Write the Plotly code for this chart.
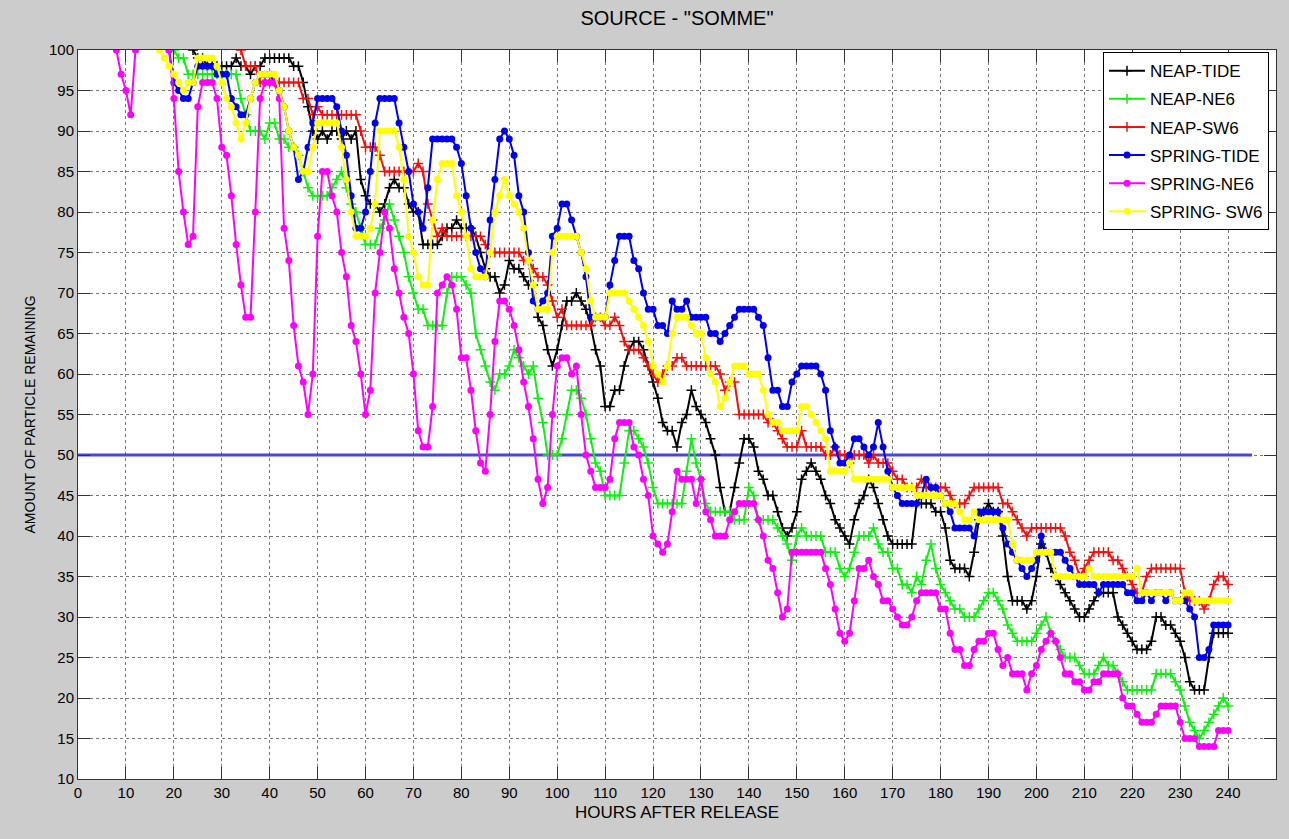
import plotly.graph_objects as go

hours = list(range(0, 241))
N = None  # hidden behind the top border of the axes (value 100)

neap_tide = [
    N, N, N, N, N, N, N, N, N, N,
    N, N, N, N, N, N, N, N, N, N,
    N, N, N, N, 100, 99, 99, 98, 98, 98,
    98, 98, 98, 99, 98, 98, 97, 98, 98, 99,
    99, 99, 99, 99, 99, 98, 98, 96, 93, 90,
    89, 90, 89, 90, 90, 89, 90, 89, 90, 84,
    82, 81, 81, 80, 81, 83, 84, 83, 83, 81,
    80, 80, 76, 76, 76, 76, 77, 78, 78, 79,
    78, 78, 78, 77, 75, 73, 72, 72, 70, 71,
    74, 73, 73, 72, 71, 71, 67, 66, 63, 61,
    63, 66, 69, 69, 70, 69, 68, 66, 63, 61,
    56, 56, 58, 58, 61, 63, 64, 64, 63, 61,
    59, 57, 54, 53, 53, 51, 54, 55, 58, 56,
    55, 54, 52, 50, 46, 43, 43, 46, 49, 52,
    52, 51, 48, 47, 45, 45, 43, 41, 40, 41,
    43, 47, 48, 49, 48, 47, 45, 44, 42, 41,
    40, 39, 42, 44, 45, 47, 46, 44, 42, 40,
    39, 39, 39, 39, 39, 44, 44, 44, 44, 43,
    43, 41, 37, 36, 36, 36, 35, 38, 42, 43,
    44, 43, 43, 40, 35, 32, 32, 32, 31, 32,
    35, 39, 38, 36, 35, 34, 33, 32, 31, 30,
    30, 31, 32, 33, 33, 33, 33, 30, 29, 28,
    27, 26, 26, 26, 27, 30, 30, 29, 29, 28,
    27, 25, 22, 21, 21, 21, 25, 28, 28, 28,
    28,
]

neap_ne6 = [
    N, N, N, N, N, N, N, N, N, N,
    N, N, N, N, N, N, N, N, N, N,
    100, 99, 99, 97, 97, 97, 97, 97, 97, 97,
    97, 97, 97, 97, 94, 92, 90, 90, 90, 89,
    91, 91, 89, 89, 88, 88, 87, 85, 83, 82,
    82, 82, 82, 83, 84, 85, 83, 81, 80, 78,
    76, 76, 76, 78, 79, 81, 79, 77, 75, 72,
    70, 68, 68, 66, 66, 66, 66, 70, 72, 72,
    72, 71, 70, 65, 63, 61, 59, 58, 60, 60,
    61, 63, 62, 61, 60, 61, 57, 54, 50, 50,
    50, 52, 55, 58, 58, 57, 55, 52, 49, 48,
    45, 45, 45, 45, 49, 53, 53, 52, 51, 49,
    46, 44, 44, 44, 44, 44, 44, 48, 52, 49,
    47, 44, 43, 43, 43, 43, 43, 42, 42, 42,
    46, 45, 42, 42, 42, 42, 41, 40, 39, 37,
    40, 41, 40, 40, 40, 40, 38, 38, 38, 36,
    35, 36, 38, 40, 40, 40, 41, 39, 38, 38,
    36, 36, 34, 34, 33, 35, 34, 37, 39, 36,
    34, 33, 32, 31, 31, 30, 30, 30, 31, 32,
    33, 33, 32, 31, 29, 28, 27, 27, 27, 27,
    28, 29, 30, 28, 27, 26, 25, 25, 25, 24,
    23, 23, 23, 24, 25, 24, 24, 23, 22, 21,
    21, 21, 21, 21, 21, 23, 23, 23, 23, 22,
    21, 19, 17, 16, 15, 16, 17, 18, 19, 20,
    19,
]

neap_sw6 = [
    N, N, N, N, N, N, N, N, N, N,
    N, N, N, N, N, N, N, N, N, N,
    N, N, N, N, N, N, N, N, N, N,
    N, N, N, N, 100, 98, 98, 98, 96, 96,
    96, 96, 96, 96, 96, 96, 96, 94, 94, 92,
    93, 92, 92, 92, 92, 92, 92, 92, 92, 90,
    88, 88, 88, 87, 85, 85, 85, 85, 85, 85,
    85, 86, 85, 81, 79, 77, 78, 77, 77, 77,
    77, 77, 77, 77, 77, 76, 75, 75, 75, 75,
    75, 75, 75, 74, 74, 73, 72, 72, 71, 69,
    67, 68, 66, 66, 66, 66, 66, 66, 67, 67,
    66, 66, 67, 66, 64, 63, 63, 63, 62, 61,
    60, 59, 60, 61, 61, 62, 62, 61, 61, 61,
    61, 61, 61, 61, 60, 58, 59, 59, 55, 55,
    55, 55, 55, 55, 54, 54, 53, 52, 51, 51,
    51, 53, 51, 51, 51, 51, 50, 50, 51, 50,
    50, 49, 50, 50, 50, 49, 50, 49, 49, 49,
    48, 47, 47, 46, 46, 46, 47, 46, 46, 46,
    46, 46, 45, 44, 44, 44, 45, 46, 46, 46,
    46, 46, 46, 44, 44, 43, 42, 41, 40, 41,
    41, 41, 41, 41, 41, 41, 40, 38, 37, 35,
    36, 37, 38, 38, 38, 38, 37, 37, 36, 35,
    34, 33, 33, 35, 36, 36, 36, 36, 36, 36,
    36, 33, 32, 32, 32, 31, 32, 34, 35, 35,
    34,
]

spring_tide = [
    N, N, N, N, N, N, N, N, N, N,
    N, N, N, N, N, N, N, N, N, 100,
    96, 95, 94, 94, 96, 98, 98, 98, 98, 97,
    97, 97, 94, 93, 92, 92, 94, 96, 97, 97,
    97, 96, 95, 93, 90, 88, 84, 85, 88, 91,
    94, 94, 94, 94, 93, 90, 87, 82, 78, 78,
    80, 85, 91, 94, 94, 94, 94, 91, 88, 85,
    81, 80, 78, 83, 89, 89, 89, 89, 89, 88,
    86, 82, 78, 75, 73, 72, 79, 84, 89, 90,
    89, 87, 82, 80, 75, 69, 68, 69, 70, 77,
    78, 81, 81, 79, 77, 75, 72, 67, 67, 67,
    67, 71, 74, 77, 77, 77, 74, 73, 70, 68,
    68, 66, 66, 65, 69, 68, 68, 69, 67, 67,
    67, 67, 65, 65, 64, 65, 66, 67, 68, 68,
    68, 68, 67, 66, 62, 58, 58, 56, 56, 59,
    60, 61, 61, 61, 61, 60, 58, 53, 51, 49,
    49, 50, 52, 52, 51, 50, 51, 54, 51, 48,
    46, 45, 44, 44, 44, 44, 45, 47, 46, 46,
    45, 44, 43, 41, 41, 41, 41, 40, 43, 43,
    43, 43, 43, 41, 39, 38, 37, 36, 35, 36,
    37, 40, 38, 38, 38, 38, 37, 36, 35, 34,
    34, 34, 34, 33, 34, 34, 34, 34, 34, 33,
    33, 32, 32, 33, 32, 33, 33, 32, 33, 32,
    32, 32, 31, 30, 25, 25, 26, 29, 29, 29,
    29,
]

spring_ne6 = [
    N, N, N, N, N, N, N, N, 100, 97,
    95, 92, 100, N, N, N, N, N, N, 100,
    94, 85, 80, 76, 77, 93, 96, 96, 96, 94,
    88, 87, 82, 76, 71, 67, 67, 80, 94, 96,
    96, 96, 94, 78, 74, 66, 61, 59, 55, 60,
    77, 85, 85, 82, 80, 75, 72, 66, 64, 60,
    55, 58, 70, 75, 80, 78, 73, 70, 67, 65,
    60, 53, 51, 51, 56, 70, 71, 72, 71, 68,
    62, 62, 58, 53, 49, 48, 55, 64, 69, 69,
    68, 66, 63, 59, 56, 52, 47, 44, 46, 55,
    61, 62, 62, 60, 61, 55, 50, 48, 46, 46,
    46, 47, 52, 54, 54, 54, 51, 50, 47, 45,
    40, 39, 38, 39, 43, 48, 47, 47, 47, 44,
    47, 43, 42, 40, 40, 40, 42, 43, 44, 44,
    44, 44, 42, 40, 37, 36, 33, 30, 31, 38,
    38, 38, 38, 38, 38, 38, 36, 34, 31, 28,
    27, 28, 32, 36, 36, 37, 35, 34, 32, 32,
    31, 30, 29, 29, 30, 32, 33, 33, 33, 33,
    31, 31, 28, 26, 26, 24, 24, 26, 27, 27,
    28, 28, 26, 24, 25, 23, 23, 23, 21, 23,
    24, 26, 27, 28, 27, 25, 23, 23, 22, 22,
    21, 21, 22, 22, 23, 23, 23, 23, 20, 19,
    19, 18, 17, 17, 17, 18, 19, 19, 19, 19,
    17, 15, 15, 15, 14, 14, 14, 14, 16, 16,
    16,
]

spring_sw6 = [
    N, N, N, N, N, N, N, N, N, N,
    N, N, N, N, N, N, N, 100, 99, 98,
    97, 96, 95, 96, 96, 99, 99, 99, 99, 98,
    96, 94, 93, 91, 89, 91, 94, 96, 97, 97,
    97, 97, 95, 93, 90, 88, 87, 85, 85, 88,
    91, 91, 91, 91, 91, 88, 84, 80, 77, 77,
    77, 78, 81, 90, 90, 90, 90, 88, 84, 77,
    75, 72, 71, 71, 79, 84, 86, 86, 86, 82,
    80, 77, 73, 72, 72, 72, 75, 80, 82, 84,
    82, 81, 80, 78, 74, 71, 68, 68, 68, 75,
    77, 77, 77, 77, 77, 75, 73, 69, 67, 67,
    67, 70, 70, 70, 70, 69, 68, 67, 66, 64,
    61, 60, 59, 61, 65, 67, 67, 67, 66, 65,
    65, 62, 60, 59, 56, 57, 59, 61, 61, 61,
    60, 60, 60, 58, 55, 54, 54, 53, 53, 53,
    53, 56, 56, 55, 54, 53, 52, 48, 48, 48,
    48, 49, 47, 47, 47, 47, 47, 47, 47, 47,
    46, 46, 46, 46, 46, 45, 45, 45, 45, 45,
    45, 44, 44, 44, 43, 42, 42, 43, 42, 42,
    42, 42, 42, 42, 42, 39, 37, 37, 37, 37,
    38, 38, 38, 38, 35, 35, 35, 35, 35, 35,
    35, 36, 35, 35, 35, 35, 35, 35, 35, 35,
    35, 36, 33, 33, 33, 33, 33, 33, 33, 32,
    32, 33, 33, 32, 32, 32, 32, 32, 32, 32,
    32,
]

half_line_x = [0, 245]
half_line_y = [50, 50]

x_ticks = list(range(0, 250, 10))
y_ticks = list(range(10, 105, 5))

series = [
    ("NEAP-TIDE", neap_tide, "#000000", "cross-thin"),
    ("NEAP-NE6", neap_ne6, "#11ee11", "cross-thin"),
    ("NEAP-SW6", neap_sw6, "#ee1111", "cross-thin"),
    ("SPRING-TIDE", spring_tide, "#0000ee", "circle"),
    ("SPRING-NE6", spring_ne6, "#ff00ff", "circle"),
    ("SPRING- SW6", spring_sw6, "#ffff00", "circle"),
]

fig = go.Figure()

fig.add_trace(go.Scatter(
    x=half_line_x, y=half_line_y, mode="lines",
    line=dict(color="rgb(72,72,215)", width=3),
    showlegend=False, hoverinfo="skip",
))

for i, (name, vals, color, sym) in enumerate(series):
    if sym == "cross-thin":
        marker = dict(symbol="cross-thin", size=7, color=color,
                      line=dict(color=color, width=1.5))
    else:
        marker = dict(symbol="circle", size=7, color=color,
                      line=dict(width=0))
    fig.add_trace(go.Scatter(
        x=hours, y=vals, name=name, mode="lines+markers",
        line=dict(color=color, width=2), connectgaps=False,
        marker=marker, legendgroup=f"g{i}",
    ))

font_family = "Liberation Sans, Arial, Helvetica, sans-serif"

fig.update_layout(
    width=1289, height=839,
    paper_bgcolor="#cccccc", plot_bgcolor="#ffffff",
    margin=dict(l=78, r=13, t=50, b=60),
    font=dict(family=font_family, size=15, color="#000000"),
    title=dict(text='SOURCE - "SOMME"', x=677 / 1289, xanchor="center",
               y=1 - 18 / 839, yref="container", yanchor="middle",
               font=dict(size=20, family=font_family, color="#000000")),
    legend=dict(
        x=(1103 - 78) / 1198, y=0.997, xanchor="left", yanchor="top",
        bgcolor="#ffffff", bordercolor="#000000", borderwidth=1,
        font=dict(size=17, family=font_family, color="#000000"),
        tracegroupgap=3, itemwidth=36,
    ),
    showlegend=True,
)

fig.update_xaxes(
    range=[0, 250], tickvals=x_ticks, ticktext=[str(v) for v in x_ticks],
    ticks="inside", ticklen=12, tickcolor="#333333",
    showline=True, linecolor="#333333", linewidth=1, mirror="ticks",
    showgrid=True, gridcolor="#777777", griddash="dot", gridwidth=1,
    zeroline=False, tickfont=dict(size=15), layer="above traces",
    title=dict(text="HOURS AFTER RELEASE", font=dict(size=17), standoff=6),
)
fig.update_yaxes(
    range=[10, 100], tickvals=y_ticks, ticktext=[str(v) for v in y_ticks],
    ticks="inside", ticklen=12, tickcolor="#333333",
    showline=True, linecolor="#333333", linewidth=1, mirror="ticks",
    showgrid=True, gridcolor="#777777", griddash="dot", gridwidth=1,
    zeroline=False, tickfont=dict(size=15), layer="above traces",
    title=dict(text="AMOUNT OF PARTICLE REMAINING", font=dict(size=14), standoff=10),
)

fig.write_html("out.html", config={"displayModeBar": False},
               post_script="document.body.style.margin='0px';")
